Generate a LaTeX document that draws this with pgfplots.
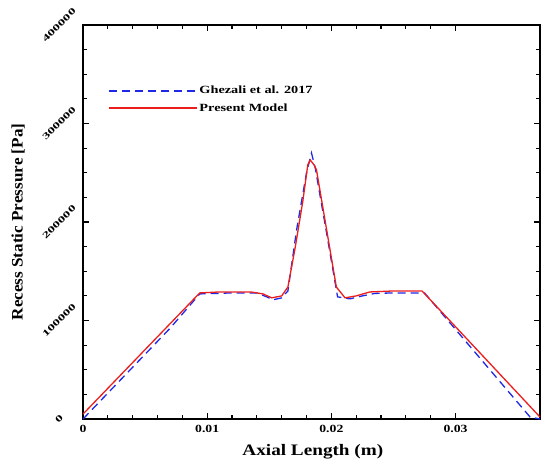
\documentclass[border=0pt]{standalone}
\usepackage{pgfplots}
\pgfplotsset{compat=1.18}
\usepackage{fontspec}
\setmainfont{Liberation Serif}

% reference data
\pgfplotstableread{
x       p
0       0
0.0070  92000
0.0094  127000
0.0120  128000
0.0140  128000
0.0148  124000
0.0153  121000
0.0160  123000
0.0165  130000
0.0172  192000
0.0180  250000
0.0184  270000
0.0187  255000
0.0196  190000
0.0205  124000
0.0215  122000
0.0225  125000
0.0235  127500
0.0250  128000
0.0275  128000
0.0360  2000
0.0368  0
}\ghezali

\pgfplotstableread{
x       p
0       5000
0.0094  128000
0.0110  129000
0.0135  129000
0.0145  127000
0.0152  123000
0.0160  125000
0.0165  134000
0.0171  175000
0.0177  221000
0.0181  258000
0.0183  263000
0.0186  258000
0.0188  253000
0.0204  134000
0.0211  123000
0.0220  125000
0.0231  129000
0.0250  130000
0.0273  130000
0.0368  2000
}\present

\definecolor{dblue}{RGB}{30,40,230}
\definecolor{dred}{RGB}{235,30,30}

\begin{document}
\begin{tikzpicture}
\begin{axis}[
  scale only axis, width=457pt, height=394pt,
  xmin=0, xmax=0.0368, ymin=0, ymax=400000,
  scaled ticks=false,
  xtick={0,0.01,0.02,0.03}, xticklabels={0,0.01,0.02,0.03},
  ytick={0,100000,200000,300000,400000},
  yticklabels={0,100000,200000,300000,400000},
  minor x tick num=4, minor y tick num=3,
  tick align=inside, major tick length=6pt, minor tick length=4pt,
  tick style={black, line width=1.2pt},
  axis line style={line width=1.2pt},
  xticklabel style={font=\fontsize{11}{12}\selectfont\bfseries, xscale=1.25, yshift=-3pt},
  yticklabel style={font=\fontsize{9}{10}\selectfont\bfseries, anchor=center, xshift=-24pt, rotate=45, xscale=1.6},
  xlabel={\scalebox{1.2}[1]{\textbf{Axial Length (m)}}},
  ylabel={\scalebox{1.07}[1]{\textbf{Recess Static Pressure [Pa]}}},
  label style={font=\fontsize{16}{18}\selectfont},
  xlabel style={at={(axis description cs:0.503,-0.083)}, anchor=center},
  ylabel style={at={(axis description cs:-0.142,0.5)}, anchor=center},
  legend style={draw=none, fill=none, at={(rel axis cs:0.048,0.855)}, anchor=north west,
    font=\fontsize{11}{12}\selectfont\bfseries, row sep=4pt},
  legend cell align=left,
  legend image code/.code={
    \draw[#1] plot coordinates {(0pt,0pt) (38pt,0pt) (77pt,0pt)};
    \path (0pt,0pt) -- (88pt,0pt);},
]
\addplot[color=dblue, line width=1.3pt, dash pattern=on 8pt off 5pt] table[x=x, y=p] {\ghezali};
\addlegendentry{\scalebox{1.3}[1]{Ghezali et al. 2017}}
\addplot[color=dred, solid, line width=1.3pt] table[x=x, y=p] {\present};
\addlegendentry{\scalebox{1.3}[1]{Present Model}}
\end{axis}
\pgfresetboundingbox
\path (-83pt,-40pt) rectangle (458pt,419pt);
\end{tikzpicture}
\end{document}
